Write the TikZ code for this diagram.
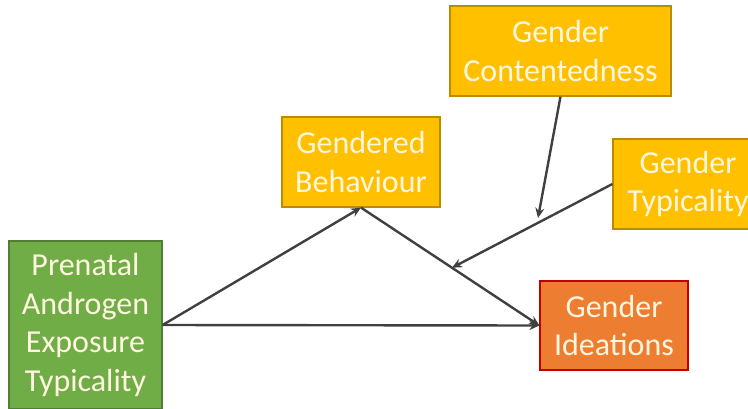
\documentclass[tikz,border=0pt]{standalone}
\usepackage{fontspec}
\setmainfont{Carlito}
\usetikzlibrary{arrows.meta,calc}
\definecolor{gfill}{HTML}{70AD47}
\definecolor{gdraw}{HTML}{507E32}
\definecolor{yfill}{HTML}{FFC000}
\definecolor{ydraw}{HTML}{BC8C00}
\definecolor{ofill}{HTML}{ED7D31}
\definecolor{odraw}{HTML}{C00000}
\definecolor{txt}{HTML}{FFF6E0}
\definecolor{arr}{HTML}{404040}
\tikzset{
  box/.style={draw, line width=1.2pt, text=txt, align=center, inner sep=0pt,
    font=\fontsize{32}{38.5}\selectfont},
  greenbox/.style={box, fill=gfill, draw=gdraw},
  yellowbox/.style={box, fill=yfill, draw=ydraw},
  orangebox/.style={box, fill=ofill, draw=odraw},
  link/.style={draw=arr, line width=2.4pt, -{Stealth[length=10pt,width=9pt]}}
}
\begin{document}
\begin{tikzpicture}[x=1pt,y=-1pt]
\useasboundingbox (0,0) rectangle (748,408);
\clip (0,0) rectangle (748,408);
\node[greenbox, minimum width=153pt, minimum height=168pt] (pa) at (85.5,325)
  {Prenatal\\Androgen\\Exposure\\Typicality};
\node[yellowbox, minimum width=158pt, minimum height=90pt] (gb) at (361,162)
  {Gendered\\Behaviour};
\node[yellowbox, minimum width=221pt, minimum height=90pt] (gc) at (560.5,51)
  {Gender\\Contentedness};
\node[yellowbox, minimum width=150pt, minimum height=90pt] (gt) at (688,184)
  {Gender\\Typicality};
\node[orangebox, minimum width=148pt, minimum height=89pt] (gi) at (614,325.5)
  {Gender\\Ideations};
\draw[link] (pa.east) -- (gi.west);
\draw[link] (pa.east) -- (gb.south);
\draw[link] (gb.south) -- (gi.west);
\coordinate (m1) at (538,218);
\coordinate (m2) at ($(gb.south)!0.51!(gi.west)$);
\draw[link] (gc.south) -- (m1);
\draw[link] (gt.west) -- (m2);
\end{tikzpicture}
\end{document}
